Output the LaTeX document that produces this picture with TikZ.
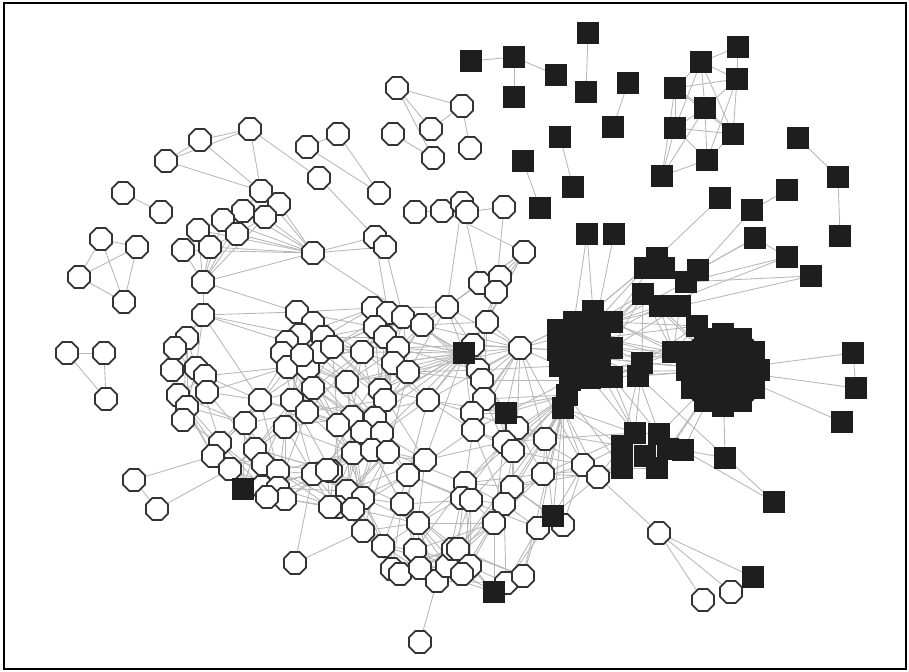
\documentclass[tikz,border=0pt]{standalone}
\usetikzlibrary{shapes.geometric}
\definecolor{edgegray}{HTML}{B8B8B8}
\definecolor{sqfill}{HTML}{1E1E1E}
\definecolor{ring}{HTML}{333333}
\begin{document}
\begin{tikzpicture}[x=0.02cm,y=-0.02cm,
  cn/.style={regular polygon,regular polygon sides=8,draw=ring,line width=1pt,fill=white,minimum size=0.48cm,inner sep=0pt},
  sn/.style={rectangle,fill=sqfill,minimum size=0.45cm,inner sep=0pt},
  edgeline/.style={draw=edgegray,line width=0.5pt}]
\useasboundingbox (0,0) rectangle (909,672);
\draw[line width=0.9pt] (4,3) rectangle (906,669);
% ---------- lists ----------
\def\meshlist{c50/187/338/cn,c51/175/348/cn,c52/172/370/cn,c53/196/368/cn,c54/205/376/cn,c55/178/395/cn,c56/207/392/cn,c57/187/407/cn,c58/183/420/cn,c59/297/312/cn,c60/313/323/cn,c61/300/335/cn,c62/287/342/cn,c63/282/353/cn,c64/323/337/cn,c65/288/367/cn,c66/308/368/cn,c67/320/352/cn,c68/302/355/cn,c69/313/388/cn,c70/260/400/cn,c71/292/400/cn,c72/307/412/cn,c73/245/423/cn,c74/285/427/cn,c75/373/308/cn,c76/388/313/cn,c77/403/317/cn,c78/422/325/cn,c79/375/327/cn,c80/385/337/cn,c81/398/348/cn,c82/393/363/cn,c83/408/372/cn,c84/362/352/cn,c85/332/347/cn,c86/347/382/cn,c87/380/390/cn,c88/385/400/cn,c89/428/400/cn,c90/352/417/cn,c91/375/418/cn,c92/338/425/cn,c93/362/432/cn,c94/382/433/cn,c95/353/453/cn,c96/372/450/cn,c97/388/452/cn,c98/425/460/cn,c99/408/475/cn,c100/313/474/cn,c101/331/471/cn,c102/347/491/cn,c103/363/498/cn,c104/337/507/cn,c105/353/509/cn,c106/402/504/cn,c107/418/523/cn,c108/363/531/cn,c109/383/546/cn,c110/415/550/cn,c111/392/569/cn,c112/400/574/cn,c113/420/568/cn,c114/437/581/cn,c115/447/566/cn,c116/453/549/cn,c117/220/443/cn,c118/213/456/cn,c119/230/469/cn,c120/255/449/cn,c121/263/464/cn,c122/278/471/cn,c123/262/487/cn,c124/278/488/cn,c125/285/499/cn,c126/267/497/cn,c127/327/470/cn,c128/330/507/cn,c131/520/348/cn,c132/473/345/cn,c133/478/370/cn,c134/482/380/cn,c135/484/399/cn,c136/472/413/cn,c137/473/430/cn,c138/517/428/cn,c139/504/442/cn,c140/513/451/cn,c141/545/439/cn,c142/543/474/cn,c143/583/465/cn,c144/598/477/cn,c145/465/483/cn,c146/462/498/cn,c147/471/500/cn,c148/512/487/cn,c149/504/504/cn,c150/494/523/cn,c151/538/528/cn,c152/563/525/cn,c153/458/549/cn,c154/470/566/cn,c155/462/574/cn,c156/506/583/cn,c157/523/576/cn,c48/487/322/cn,c49/447/307/cn,s78/464/353/sn,s79/506/413/sn,s80/553/516/sn,s81/494/592/sn,s82/243/489/sn}
\def\otherc{c1/397/88,c2/462/106,c3/431/129,c4/393/134,c5/433/158,c6/470/148,c7/250/129,c8/200/140,c9/166/161,c10/338/134,c11/307/147,c12/319/178,c13/379/193,c14/123/193,c15/161/212,c16/101/239,c17/137/247,c18/79/277,c19/124/302,c20/67/353,c21/104/353,c22/106/399,c23/134/480,c24/157/509,c25/261/191,c26/279/204,c27/243/211,c28/223/220,c29/265/217,c30/198/230,c31/237/234,c32/183/250,c33/210/247,c34/313/253,c35/375/237,c36/385/247,c37/203/282,c38/203/315,c39/415/212,c40/442/211,c41/462/203,c42/467/212,c43/504/207,c44/524/252,c45/480/283,c46/500/277,c47/496/292,c129/295/563,c130/420/642,c158/659/533,c159/731/592,c160/703/600}
\def\sqlist{s1/471/61,s2/514/57,s3/514/97,s4/556/75,s5/588/33,s6/586/92,s7/628/83,s8/613/127,s9/560/137,s10/523/161,s11/573/187,s12/540/208,s13/675/88,s14/701/62,s15/738/47,s16/737/79,s17/705/108,s18/675/128,s19/733/134,s20/707/160,s21/662/176,s22/798/138,s23/838/177,s24/840/236,s25/720/198,s26/752/210,s27/787/190,s28/755/238,s29/787/257,s30/811/276,s31/587/234,s32/614/234,s72/725/458,s73/774/502,s74/753/577,s75/853/353,s76/856/388,s77/842/422}
\def\bloblist{s33/593/311,s34/574/322,s35/596/322,s36/612/322,s37/558/330,s38/580/332,s39/600/338,s40/612/348,s41/558/350,s42/580/352,s43/600/358,s44/560/366,s45/580/370,s46/600/372,s47/612/377,s48/570/380,s49/590/378,s50/567/395,s51/563/408,s52/657/258,s53/645/268,s54/664/268,s55/698/270,s56/686/282,s57/643/294,s58/660/306,s59/680/306,s60/642/363,s61/638/376,s62/673/352,s63/697/326,s64/635/433,s65/659/434,s66/622/446,s67/622/468,s68/657/468,s69/645/456,s70/683/450,s71/668/449}
\def\edgelist{c1/c2,c1/c3,c1/c5,c3/c2,c4/c5,c2/c6,c7/c8,c7/c9,c8/c9,c7/c25,c8/c25,c9/c25,c7/c12,c10/c11,c10/c13,c11/c13,c12/c35,c14/c15,c16/c17,c16/c18,c18/c17,c16/c19,c17/c19,c18/c19,c20/c21,c20/c22,c21/c22,c23/c24,c23/c118,c24/c119,c34/c25,c34/c26,c34/c27,c34/c28,c34/c29,c34/c30,c34/c31,c34/c32,c34/c33,c34/c35,c34/c36,c34/c37,c34/c78,c37/c27,c37/c28,c37/c30,c37/c31,c37/c33,c37/c32,c37/c38,c37/c29,c25/c26,c25/c27,c26/c29,c27/c28,c28/c30,c30/c32,c31/c33,c29/c31,c27/c29,c26/c27,c35/c36,c36/c77,c35/c76,c38/c59,c38/c53,c38/c50,c38/c61,c38/c62,c38/c70,c37/c59,c39/c40,c40/c42,c42/c43,c41/c45,c43/c47,c44/c46,c44/c47,c44/c45,c44/c48,c44/c40,c44/c49,c44/c132,c41/c49,c45/c78,c45/c49,c46/c48,c47/c132,s1/s2,s2/s3,s2/s4,s5/s6,s7/s8,s9/s11,s10/s12,s13/s14,s13/s16,s13/s17,s13/s18,s13/s21,s13/s19,s14/s15,s14/s16,s14/s17,s14/s18,s14/s19,s16/s17,s16/s19,s16/s20,s17/s18,s17/s19,s17/s20,s17/s21,s18/s19,s18/s20,s18/s21,s19/s20,s20/s21,s15/s16,s22/s23,s23/s24,s25/s52,s26/s27,s26/s55,s28/s55,s28/s29,s29/s56,s30/s56,s31/s33,s31/s34,s32/s35,s75/s76,s75/d,s76/d,s77/d,s70/s72,s61/s73,c158/c144,c158/c159,c158/c160,c158/s74,c150/s81,c156/s81,c157/c156,c130/c114,c129/c100,c129/c108,c131/s37,c131/s41,c131/s44,c131/s34,c131/s38,c131/c132,c131/c48,c131/c49,c131/c78,c131/s78,c131/c133,c131/c134,c131/c135,c131/c138,c131/c141,c131/c143,c131/c136,c131/c137,c131/c89,c131/c83,s78/c89,s78/c82,s78/c83,s78/c81,s78/c86,s78/c87,s78/c88,s78/c90,s78/c91,s78/c80,s78/c84,s78/c98,s78/c94,s78/c77,s51/c141,s51/c142,s51/c143,s51/c148,s51/c152,s51/s80,s51/c151,s50/c138,s50/c139,s50/s79,s51/c144,s50/c145,s51/c150,s50/c147,s51/c153,s48/c141,s51/s64,s51/s66,s50/s67,s49/s64,s46/s64,s47/s65,s47/s69,s51/c157,s36/s57,s36/s58,s40/s57,s39/s58,s40/s60,s43/s60,s47/s61,s35/s53,s36/s52,s40/s62,s43/s62,s46/s62,s47/d,s40/d,s39/s63,s36/s63,s60/s63,s57/s62,s58/s62,s59/s62,s59/s63,s58/d,s57/s60,s61/d,s60/d,s36/s56,s33/s52,s35/s57,s39/s57,s43/s61,s46/s60,s36/s59,s40/s59,s39/s62,s36/s62,s47/s62,s47/s60,s43/d,s46/d,s39/d,s36/d,s57/d,s62/s63,s55/s28,s59/s30,s58/s29,s65/d,s70/d,s68/d,s71/d,s64/s60,s65/s61,s66/s61,s64/s65,s64/s66,s66/s67,s67/s68,s65/s68,s69/s70,s66/c143,s66/c144,s67/c144,s64/c142,s67/c142,s64/c141,s66/c138,s67/c148,s44/c133,s41/c132,s48/c134,s50/c135,s50/c136,s48/c137,s50/c140,s52/s33,s72/d,s70/s73}
% ---------- positions ----------
\foreach \n/\x/\y/\t in \meshlist {\coordinate (\n) at (\x,\y);}
\foreach \n/\x/\y in \otherc {\coordinate (\n) at (\x,\y);}
\foreach \n/\x/\y in \sqlist {\coordinate (\n) at (\x,\y);}
\foreach \n/\x/\y in \bloblist {\coordinate (\n) at (\x,\y);}
\coordinate (d) at (723,370);
% ---------- connectors ----------
\foreach \a/\b in \edgelist {\draw[edgeline] (\a) -- (\b);}
\foreach \n/\x/\y/\t [count=\i] in \meshlist {
  \foreach \m/\X/\Y/\T [count=\j] in \meshlist {
    \ifnum\j>\i
      \pgfmathsetmacro{\dd}{veclen(\X-\x,\Y-\y)}
      \pgfmathtruncatemacro{\sel}{mod(\i*7+\j*11,5)}
      \ifdim\dd pt<85pt
        \ifnum\sel<2 \draw[edgeline] (\n) -- (\m);\fi
      \fi
    \fi
  }
}
% ---------- nodes ----------
\fill[sqfill] (d) circle[radius=0.86cm];
\foreach \a in {0,30,...,330} {\node[sn] (dq\a) at ([shift={(\a:0.72cm)}]d) {};}
\foreach \n/\x/\y in \bloblist {\node[sn] (n\n) at (\n) {};}
\foreach \n/\x/\y/\t in \meshlist {\node[\t] (n\n) at (\n) {};}
\foreach \n/\x/\y in \otherc {\node[cn] (n\n) at (\n) {};}
\foreach \n/\x/\y in \sqlist {\node[sn] (n\n) at (\n) {};}
\end{tikzpicture}
\end{document}
